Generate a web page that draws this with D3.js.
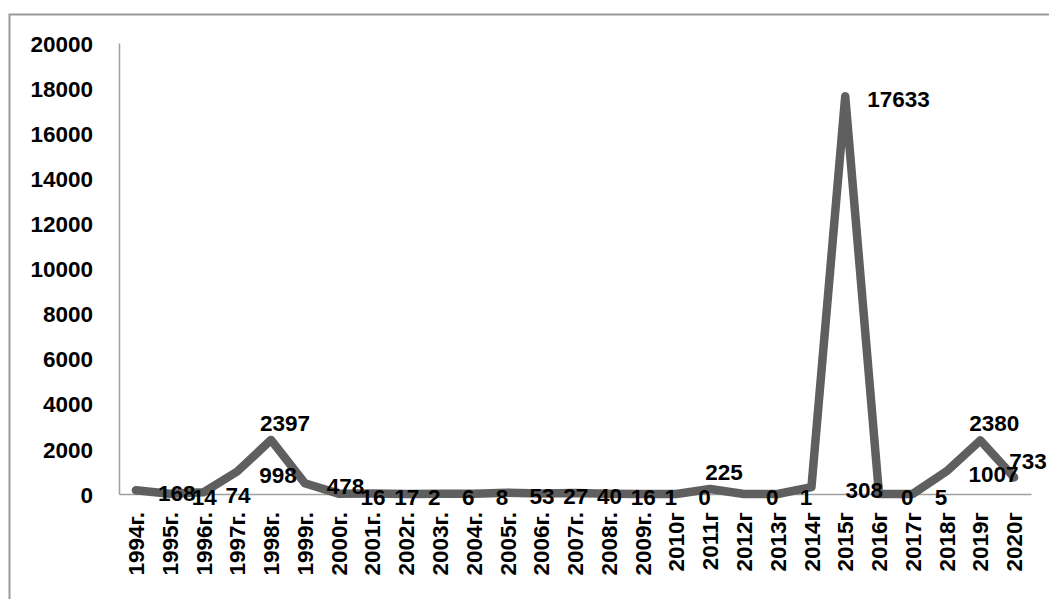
<!DOCTYPE html>
<html>
<head>
<meta charset="utf-8">
<script src="https://cdn.jsdelivr.net/npm/d3@7/dist/d3.min.js"></script>
<style>
  html, body { margin: 0; padding: 0; background: #fff; }
  svg { display: block; }
  text { font-family: "Liberation Sans", Arial, sans-serif; font-weight: bold; fill: #000; }
</style>
</head>
<body>
<script>
// Yearly counts, 1994–2020
const years = ["1994г.","1995г.","1996г.","1997г.","1998г.","1999г.","2000г.","2001г.","2002г.","2003г.",
  "2004г.","2005г.","2006г.","2007г.","2008г.","2009г.","2010г","2011г","2012г","2013г",
  "2014г","2015г","2016г","2017г","2018г","2019г","2020г"];
const counts = [168,14,74,998,2397,478,16,17,2,6,8,53,27,40,16,1,0,225,0,1,308,17633,0,5,1007,2380,733];
const yTicks = [0,2000,4000,6000,8000,10000,12000,14000,16000,18000,20000];

const W = 1049, H = 599;
const plot = { left: 119, right: 1031, top: 43, bottom: 494 };
const fontSize = 22.5;

const svg = d3.select("body").append("svg").attr("width", W).attr("height", H);

// chart area frame (extends past the right and bottom edges)
svg.append("rect")
  .attr("x", 9.5).attr("y", 14.5).attr("width", W + 20).attr("height", H + 20)
  .attr("fill", "none").attr("stroke", "#9a9a9a").attr("stroke-width", 2);

const x = d3.scaleBand().domain(years).range([plot.left, plot.right]);
const y = d3.scaleLinear().domain([0, 20000]).range([plot.bottom, plot.top]);
const cx = d => x(d) + x.bandwidth() / 2;

// value axis
const yAxis = svg.append("g")
  .attr("transform", `translate(${plot.left},0)`)
  .call(d3.axisLeft(y).tickValues(yTicks).tickSize(0).tickPadding(26).tickFormat(d3.format("d")));
yAxis.select(".domain").attr("stroke", "#a0a0a0").attr("stroke-width", 1.5);
yAxis.selectAll("text").style("font-size", fontSize + "px").attr("dy", "0.36em");

// category axis
const xAxis = svg.append("g")
  .attr("transform", `translate(0,${plot.bottom})`)
  .call(d3.axisBottom(x).tickSize(0).tickPadding(0));
xAxis.select(".domain").attr("stroke", "#a0a0a0").attr("stroke-width", 1.5);
xAxis.selectAll("text")
  .style("font-size", fontSize + "px")
  .attr("text-anchor", "end")
  .attr("transform", "rotate(-90)")
  .attr("x", -18).attr("y", 0).attr("dy", "0.36em");

// series line
const line = d3.line().x((d, i) => cx(years[i])).y(d => y(d));
svg.append("path")
  .datum(counts)
  .attr("d", line)
  .attr("fill", "none")
  .attr("stroke", "#5f5f5f")
  .attr("stroke-width", 8.5)
  .attr("stroke-linejoin", "round")
  .attr("stroke-linecap", "round");

// data labels: to the right of the point, a few placed above the point
const above = new Set(["1998г.","2011г","2019г","2020г"]);
svg.append("g").selectAll("text")
  .data(counts)
  .join("text")
  .style("font-size", fontSize + "px")
  .each(function (d, i) {
    const px = cx(years[i]), py = y(d);
    const t = d3.select(this).text(d);
    if (above.has(years[i])) {
      t.attr("x", px + 14).attr("y", py - 17).attr("dy", "0.36em").attr("text-anchor", "middle");
    } else {
      const dx = years[i] === "2014г" ? 34 : 22;
      t.attr("x", px + dx).attr("y", py + 3).attr("dy", "0.36em").attr("text-anchor", "start");
    }
  });
</script>
</body>
</html>
